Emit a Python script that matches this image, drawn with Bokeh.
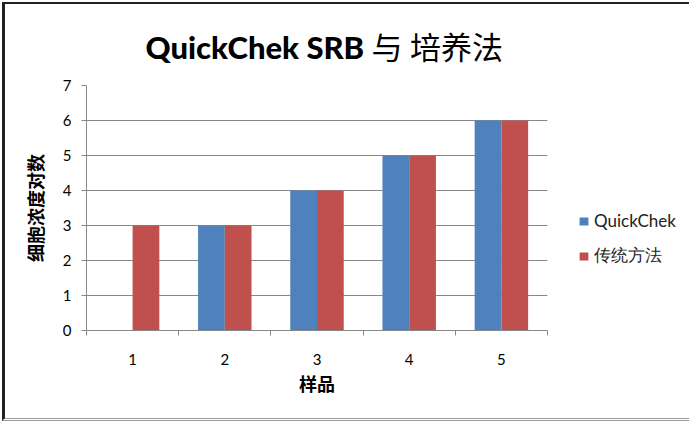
from bokeh.plotting import figure
from bokeh.models import (Range1d, FixedTicker, Legend, LegendItem,
                          ColumnDataSource)
from bokeh.embed import file_html
from bokeh.resources import INLINE

# ---- data ----
samples = [1, 2, 3, 4, 5]
sample_labels = ["1", "2", "3", "4", "5"]
quickchek = [0, 3, 4, 5, 6]
traditional = [3, 3, 4, 5, 6]
y_ticks = [0, 1, 2, 3, 4, 5, 6, 7]

BLUE = "#4F81BD"
RED = "#C0504D"
GRID = "#888888"

p = figure(width=681, height=414, output_backend="svg", toolbar_location=None,
           x_range=Range1d(0.5, 5.5), y_range=Range1d(0, 7),
           frame_width=461, frame_height=245,
           min_border_left=81, min_border_top=81, min_border_right=139,
           min_border_bottom=88)
p.outline_line_color = None
p.background_fill_color = "white"
p.border_fill_color = "white"
p.styles = {"border-left": "3px solid #222222", "border-top": "2px solid #222222",
            "border-bottom": "3px double #9a9a9a",
            "margin-left": "2px", "margin-top": "2px"}

bw = 0.29
src = ColumnDataSource(dict(
    xq=[s - bw / 2 for s in samples],
    xt=[s + bw / 2 for s in samples],
    q=quickchek, t=traditional))
r1 = p.vbar(x="xq", top="q", width=bw, source=src, fill_color=BLUE,
            line_color=None)
r2 = p.vbar(x="xt", top="t", width=bw, source=src, fill_color=RED,
            line_color=None)

# title
p.title.text = "QuickChek SRB 与  培养法"
p.title.text_font = "Lato Heavy, Lato, Noto Sans CJK SC"
p.title.text_font_style = "normal"
p.title.text_font_size = "31px"
p.title.text_color = "black"
p.title.align = "left"
p.title.offset = 59
p.title.standoff = 39

# axes
p.xaxis.ticker = FixedTicker(ticks=samples,
                             minor_ticks=[0.5, 1.5, 2.5, 3.5, 4.5, 5.5])
p.xaxis.major_label_overrides = {s: l for s, l in zip(samples, sample_labels)}
p.xaxis.major_tick_out = 0
p.xaxis.major_tick_in = 0
p.xaxis.minor_tick_out = 5
p.xaxis.minor_tick_in = 0
p.xaxis.minor_tick_line_color = GRID
p.xaxis.axis_line_color = GRID
p.xaxis.major_label_standoff = 18
p.xaxis.axis_label = "样品"
p.xaxis.axis_label_standoff = 2

p.yaxis.ticker = FixedTicker(ticks=y_ticks)
p.yaxis.major_tick_out = 5
p.yaxis.major_tick_in = 0
p.yaxis.minor_tick_line_color = None
p.yaxis.major_tick_line_color = GRID
p.yaxis.axis_line_color = GRID
p.yaxis.major_label_standoff = 10
p.yaxis.axis_label = "细胞浓度对数"
p.yaxis.axis_label_standoff = 12

for ax in (p.xaxis, p.yaxis):
    ax.major_label_text_font = "Lato"
    ax.major_label_text_font_size = "15px"
    ax.major_label_text_color = "black"
    ax.axis_label_text_font = "Noto Sans CJK SC"
    ax.axis_label_text_font_size = "18px"
    ax.axis_label_text_font_style = "bold"
    ax.axis_label_text_color = "black"

p.xgrid.grid_line_color = None
p.ygrid.ticker = FixedTicker(ticks=y_ticks)
p.ygrid.grid_line_color = GRID
p.ygrid.grid_line_width = 1

legend = Legend(items=[LegendItem(label="QuickChek", renderers=[r1]),
                       LegendItem(label="传统方法", renderers=[r2])],
                location=(31, 63), orientation="vertical")
legend.border_line_color = None
legend.background_fill_alpha = 0
legend.padding = 0
legend.margin = 0
legend.spacing = 13
legend.glyph_width = 11
legend.glyph_height = 10
legend.label_height = 20
legend.label_standoff = 5
legend.label_text_font = "Lato"
legend.label_text_font_size = "17px"
legend.label_text_color = "#222222"
p.add_layout(legend, "right")

open("out.html", "w").write(file_html(p, INLINE))
